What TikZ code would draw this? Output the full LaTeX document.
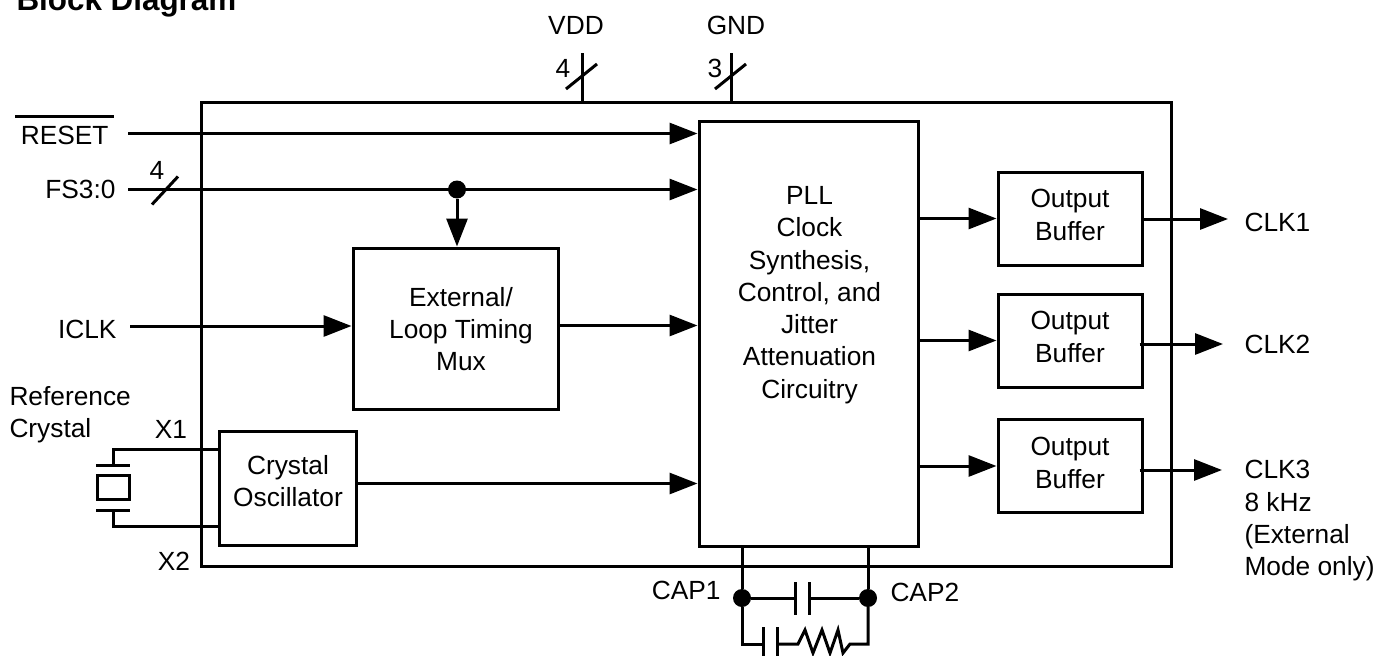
\documentclass[tikz,border=0pt]{standalone}
\usepackage{fontspec}
\setmainfont{Liberation Sans}
\usetikzlibrary{positioning,calc,arrows.meta}
\begin{document}
\begin{tikzpicture}[x=1pt,y=-1pt,line width=3pt,font=\fontsize{26.3}{32.3}\selectfont,
  bx/.style={draw,inner sep=0pt},
  bufbox/.style={bx,minimum width=144pt,minimum height=93pt},
  lbl/.style={inner sep=0pt,align=left},
  txt/.style={inner sep=0pt,align=center},
  dot/.style={circle,fill,inner sep=0pt,outer sep=0pt,minimum size=18pt},
  arr/.style={-{Triangle[length=28pt,width=21pt]}}]
  \useasboundingbox (0,0) rectangle (1387,656);
  \node[bx,minimum width=970pt,minimum height=464pt] (chip) at (686,334) {};
  \node[bx,minimum width=219pt,minimum height=425pt] (pll) at (808.5,333.5) {};
  \node[txt] (plltext) at (809.5,295) {PLL\\Clock\\Synthesis,\\Control, and\\Jitter\\Attenuation\\Circuitry};
  \node[bx,minimum width=205pt,minimum height=161pt] (mux) at (455.5,328.5) {};
  \node[txt] (muxtext) at (461,329) {External/\\Loop Timing\\Mux};
  \node[bx,minimum width=137pt,minimum height=114pt] (osc) at (287.5,488) {};
  \node[txt] (osctext) at (288,481) {Crystal\\Oscillator};
  \node[bufbox] (buf1) at (1070,218.5) {};
  \node[bufbox] (buf2) at (1070,340.5) {};
  \node[bufbox] (buf3) at (1070,466) {};
  \node[txt] (buf1text) at (1070,215) {Output\\Buffer};
  \node[txt] (buf2text) at (1070,337) {Output\\Buffer};
  \node[txt] (buf3text) at (1070,463) {Output\\Buffer};
  \node[lbl,anchor=base west,font=\fontsize{31.4}{36}\selectfont\bfseries] (title) at (15,10) {Block Diagram};
  \node[lbl] (vdd) at (576,25) {VDD};
  \node[lbl] (gnd) at (736,25) {GND};
  \node[lbl] (vddn) at (563,68) {4};
  \node[lbl] (gndn) at (715,68) {3};
  \node[lbl] (fsn) at (157,170) {4};
  \node[lbl,anchor=east,inner xsep=4pt,inner ysep=8pt] (reset) at (114,135) {RESET};
  \node[lbl,anchor=east] (fs) at (117,189) {FS3:0};
  \node[lbl,anchor=east] (iclk) at (118,329) {ICLK};
  \node[lbl,anchor=west] (refx) at (8,415) {Reference\\Crystal};
  \node[lbl] (xone) at (171,429) {X1};
  \node[lbl] (xtwo) at (174,561) {X2};
  \node[lbl,anchor=west] (clkone) at (1243,222) {CLK1};
  \node[lbl,anchor=west] (clktwo) at (1243,344) {CLK2};
  \node[lbl,anchor=north west] (clkthree) at (1243,459) {CLK3\\8 kHz\\(External\\Mode only)};
  \node[lbl,anchor=east] (capone) at (722,590) {CAP1};
  \node[lbl,anchor=west] (captwo) at (889,592) {CAP2};
  \coordinate (rstin) at (128,133.5);
  \coordinate (fsin) at (128,189.5);
  \coordinate (iclkin) at (130,326);
  \coordinate (vddin) at (582,53);
  \coordinate (gndin) at (731,53);
  \coordinate (out1) at (1228,219);
  \coordinate (out2) at (1223,344);
  \coordinate (out3) at (1222,470);
  \node[dot] (fsdot) at (457,189.5) {};
  \node[dot] (capa) at (742,598) {};
  \node[dot] (capb) at (868,598) {};
  \draw[arr] (rstin) -- (rstin -| pll.west);
  \draw[arr] (fsin) -- (fsin -| pll.west);
  \draw[arr] (fsdot) -- (fsdot |- mux.north);
  \draw[arr] (iclkin) -- (iclkin -| mux.west);
  \draw[arr] (mux.east |- 0,325.5) -- (pll.west |- 0,325.5);
  \draw[arr] (osc.east |- 0,483.5) -- (pll.west |- 0,483.5);
  \draw[arr] (pll.east |- buf1.west) -- (buf1.west);
  \draw[arr] (pll.east |- buf2.west) -- (buf2.west);
  \draw[arr] (pll.east |- buf3.west) -- (buf3.west);
  \draw[arr] (buf1.east |- out1) -- (out1);
  \draw[arr] ($(buf2.east |- out2)+(-4,0)$) -- (out2);
  \draw[arr] ($(buf3.east |- out3)+(-4,0)$) -- (out3);
  \draw (vddin) -- (vddin |- chip.north);
  \draw (gndin) -- (gndin |- chip.north);
  \draw ($(vddin)+(-16,36)$) -- ($(vddin)+(15,11)$);
  \draw ($(gndin)+(-16,36)$) -- ($(gndin)+(15,11)$);
  \draw ($(fsin)+(24,15)$) -- ($(fsin)+(50,-13)$);
  \draw (reset.north west) -- (reset.north east);
  \coordinate (xtop) at (113,449);
  \coordinate (xbot) at (113,526);
  \draw (osc.west |- xtop) -- (xtop) -- (113,465);
  \draw (osc.west |- xbot) -- (xbot) -- (113,510);
  \draw (96,465) -- (130,465);
  \draw (96,510) -- (130,510);
  \draw (97,475) rectangle (129,499);
  \draw (pll.south -| capa) -- (capa);
  \draw (pll.south -| capb) -- (capb);
  \draw (capa) -- (795,598);
  \draw (capb) -- (809,598);
  \draw (795,582) -- (795,615);
  \draw (809,582) -- (809,615);
  \draw (capa) -- (742,644) -- (763,644);
  \draw (763,627) -- (763,660);
  \draw (777,627) -- (777,660);
  \draw (capb) -- (868,644) -- (850,644) -- (843,653) -- (838,630) -- (830,653) -- (822,630) -- (813,653) -- (805,630) -- (798,644) -- (777,644);
\end{tikzpicture}
\end{document}
